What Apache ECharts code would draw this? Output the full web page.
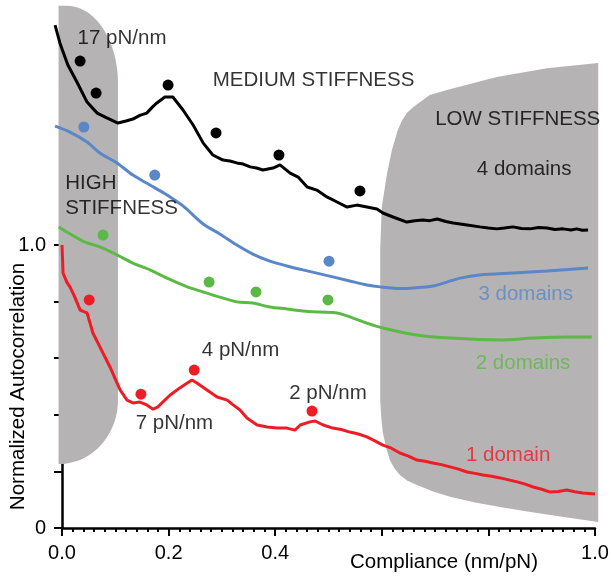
<!DOCTYPE html>
<html><head><meta charset="utf-8">
<script src="https://cdn.jsdelivr.net/npm/echarts@6/dist/echarts.min.js"></script>
<style>html,body{margin:0;padding:0;background:#fff}#c{width:611px;height:576px}</style>
</head><body><div id="c"></div><script>
// ---- data (x = compliance nm/pN, y = normalized autocorrelation) ----
const fourDomains = [[-0.013,1.777],[-0.004,1.714],[0.011,1.636],[0.028,1.576],[0.047,1.505],[0.066,1.466],[0.084,1.449],[0.105,1.431],[0.120,1.438],[0.133,1.445],[0.146,1.458],[0.159,1.466],[0.170,1.488],[0.178,1.502],[0.193,1.523],[0.208,1.523],[0.227,1.477],[0.246,1.424],[0.265,1.360],[0.283,1.318],[0.302,1.300],[0.315,1.297],[0.328,1.290],[0.340,1.286],[0.353,1.276],[0.365,1.272],[0.377,1.265],[0.396,1.272],[0.409,1.283],[0.428,1.254],[0.443,1.240],[0.460,1.205],[0.478,1.194],[0.497,1.170],[0.516,1.152],[0.535,1.134],[0.553,1.141],[0.572,1.134],[0.591,1.127],[0.602,1.113],[0.621,1.099],[0.647,1.081],[0.662,1.086],[0.677,1.088],[0.690,1.086],[0.704,1.092],[0.720,1.083],[0.734,1.078],[0.760,1.071],[0.784,1.064],[0.800,1.060],[0.816,1.057],[0.830,1.060],[0.846,1.064],[0.862,1.058],[0.878,1.057],[0.894,1.062],[0.910,1.060],[0.925,1.055],[0.940,1.057],[0.955,1.053],[0.966,1.057],[0.976,1.052],[0.987,1.053]];
const threeDomains = [[-0.013,1.420],[0.015,1.399],[0.047,1.364],[0.071,1.325],[0.103,1.290],[0.133,1.247],[0.165,1.212],[0.197,1.177],[0.227,1.138],[0.265,1.074],[0.296,1.039],[0.328,1.000],[0.358,0.968],[0.390,0.943],[0.422,0.926],[0.452,0.912],[0.484,0.898],[0.540,0.873],[0.572,0.859],[0.597,0.852],[0.634,0.846],[0.659,0.848],[0.696,0.855],[0.722,0.869],[0.747,0.883],[0.784,0.894],[0.846,0.901],[0.910,0.908],[0.987,0.919]];
const twoDomains = [[-0.006,1.064],[0.009,1.046],[0.039,1.014],[0.071,0.993],[0.103,0.965],[0.133,0.936],[0.165,0.912],[0.197,0.883],[0.235,0.852],[0.265,0.834],[0.296,0.816],[0.328,0.799],[0.358,0.795],[0.390,0.781],[0.422,0.774],[0.452,0.767],[0.484,0.763],[0.516,0.760],[0.540,0.746],[0.572,0.724],[0.602,0.707],[0.666,0.682],[0.728,0.671],[0.822,0.664],[0.884,0.671],[0.947,0.675],[0.994,0.675]];
const oneDomain = [[0.000,1.000],[0.002,0.901],[0.009,0.869],[0.015,0.852],[0.024,0.816],[0.034,0.770],[0.047,0.760],[0.058,0.689],[0.071,0.640],[0.090,0.569],[0.109,0.488],[0.122,0.452],[0.133,0.442],[0.146,0.445],[0.159,0.435],[0.171,0.420],[0.180,0.428],[0.189,0.445],[0.203,0.470],[0.221,0.495],[0.235,0.512],[0.244,0.523],[0.253,0.512],[0.272,0.488],[0.291,0.463],[0.310,0.452],[0.321,0.435],[0.334,0.417],[0.347,0.389],[0.366,0.364],[0.385,0.357],[0.403,0.353],[0.422,0.353],[0.437,0.346],[0.447,0.364],[0.465,0.375],[0.475,0.378],[0.490,0.364],[0.508,0.353],[0.524,0.348],[0.540,0.339],[0.556,0.332],[0.572,0.322],[0.587,0.308],[0.602,0.293],[0.618,0.282],[0.634,0.265],[0.650,0.254],[0.666,0.240],[0.681,0.236],[0.696,0.230],[0.712,0.224],[0.728,0.216],[0.744,0.208],[0.760,0.198],[0.775,0.193],[0.790,0.187],[0.806,0.183],[0.822,0.177],[0.838,0.170],[0.854,0.163],[0.869,0.155],[0.884,0.145],[0.900,0.137],[0.916,0.127],[0.931,0.129],[0.947,0.134],[0.962,0.128],[0.977,0.124],[1.000,0.120]];

const fourDots = [[0.034,1.650],[0.064,1.537],[0.199,1.565],[0.289,1.396],[0.407,1.318],[0.559,1.191]];
const threeDots = [[0.041,1.417],[0.174,1.247],[0.501,0.943]];
const twoDots = [[0.077,1.035],[0.276,0.869],[0.364,0.834],[0.499,0.806]];
const oneDots = [[0.051,0.806],[0.148,0.473],[0.248,0.558],[0.469,0.413]];

const xTickValues = [0, 0.2, 0.4, 0.6, 0.8, 1.0];
const xTickLabels = ['0.0', '0.2', '0.4', '', '', '1.0'];
const yTickValues = [0, 0.2, 0.4, 0.6, 0.8, 1.0];
const yTickLabels = ['0', '', '', '', '', '1.0'];

const seriesNames = ['4 domains', '3 domains', '2 domains', '1 domain'];
const colors = ['#000000', '#5a87c8', '#5cb946', '#ee1c25'];
const GRAY = '#b5b3b4';
const FONT = 'Liberation Sans, Arial, sans-serif';

// ---- shaded stiffness regions (outlines in data coordinates) ----
function arc(cx, cy, rx, ry, a0, a1, n) {
  const p = [];
  for (let i = 0; i <= n; i++) { const t = a0 + (a1 - a0) * i / n; p.push([cx + rx * Math.cos(t), cy + ry * Math.sin(t)]); }
  return p;
}
const highRegion = [[-0.0065, 0.226], [-0.0065, 1.845]]
  .concat(arc(0.0094, 1.572, 0.0956, 0.273, Math.PI / 2, 0, 24))
  .concat(arc(-0.0056, 0.452, 0.1106, 0.226, 0, -Math.PI / 2, 24));
const lowRegion = [[1.006,1.643],[0.910,1.625],[0.816,1.594],[0.722,1.548],[0.690,1.530],[0.672,1.505],[0.658,1.486],[0.647,1.466],[0.638,1.440],[0.630,1.406],[0.619,1.336],[0.610,1.254],[0.600,1.134],[0.597,0.982],[0.597,0.452],[0.599,0.390],[0.602,0.336],[0.608,0.285],[0.615,0.240],[0.624,0.210],[0.634,0.187],[0.648,0.167],[0.666,0.152],[0.695,0.130],[0.728,0.110],[0.775,0.090],[0.822,0.074],[0.870,0.059],[0.916,0.046],[1.006,0.021]];
const regions = [highRegion, lowRegion];

const annotations = [
  {value: [0.1126, 1.731], name: '17 pN/nm', color: '#000'},
  {value: [0.472, 1.581], name: 'MEDIUM STIFFNESS', color: '#000'},
  {value: [0.855, 1.445], name: 'LOW STIFFNESS', color: '#000'},
  {value: [0.867, 1.269], name: '4 domains', color: '#000'},
  {value: [0.870, 0.827], name: '3 domains', color: colors[1]},
  {value: [0.865, 0.583], name: '2 domains', color: colors[2]},
  {value: [0.837, 0.258], name: '1 domain', color: colors[3]},
  {value: [0.335, 0.629], name: '4 pN/nm', color: '#000'},
  {value: [0.211, 0.371], name: '7 pN/nm', color: '#000'},
  {value: [0.499, 0.477], name: '2 pN/nm', color: '#000'}
];

const chart = echarts.init(document.getElementById('c'));
function lineSeries(name, data, color, smooth) {
  return {type: 'line', name: name, data: data, xAxisIndex: 0, yAxisIndex: 0, symbol: 'none', showSymbol: false,
    smooth: smooth, lineStyle: {color: color, width: 3}, z: 3, silent: true};
}
function dotSeries(data, color) {
  return {type: 'scatter', data: data, xAxisIndex: 0, yAxisIndex: 0, symbol: 'circle', symbolSize: 11,
    itemStyle: {color: color, opacity: 1}, z: 4, silent: true};
}
const labelBase = {show: true, position: 'inside', fontSize: 20.5, fontFamily: FONT, textBorderWidth: 0, textShadowBlur: 0};
const option = {
  animation: false,
  backgroundColor: '#ffffff',
  textStyle: {fontFamily: FONT},
  grid: [
    {left: 51.34, right: 16, top: 4.45, bottom: 48, containLabel: false, outerBoundsMode: 'none'},
    {left: 62, right: 16, top: 245, bottom: 48, containLabel: false, outerBoundsMode: 'none'}
  ],
  xAxis: [
    {gridIndex: 0, type: 'value', min: -0.02, max: 1, show: false},
    {gridIndex: 1, type: 'value', min: 0, max: 1, interval: 0.2,
      axisLine: {show: true, onZero: false, lineStyle: {color: '#000', width: 2.5}},
      axisTick: {show: true, length: 8, lineStyle: {color: '#000', width: 2}},
      minorTick: {show: true, splitNumber: 10, length: 4, lineStyle: {color: '#000', width: 2}},
      splitLine: {show: false}, minorSplitLine: {show: false},
      axisLabel: {color: '#000', fontSize: 20, fontFamily: FONT, margin: 15,
        formatter: v => { const i = xTickValues.findIndex(t => Math.abs(t - v) < 1e-6); return i < 0 ? '' : xTickLabels[i]; }},
      name: 'Compliance (nm/pN)', nameLocation: 'middle', nameGap: 24, nameMoveOverlap: false,
      nameTextStyle: {color: '#000', fontSize: 20.5, fontFamily: FONT, padding: [0, 0, 0, 231]}}
  ],
  yAxis: [
    {gridIndex: 0, type: 'value', min: 0, max: 1.85, show: false},
    {gridIndex: 1, type: 'value', min: 0, max: 1, interval: 0.2,
      axisLine: {show: true, onZero: false, lineStyle: {color: '#000', width: 2.5}},
      axisTick: {show: true, length: 8, lineStyle: {color: '#000', width: 2}},
      splitLine: {show: false},
      axisLabel: {color: '#000', fontSize: 20, fontFamily: FONT, margin: 16,
        formatter: v => { const i = yTickValues.findIndex(t => Math.abs(t - v) < 1e-6); return i < 0 ? '' : yTickLabels[i]; }},
      name: 'Normalized Autocorrelation', nameLocation: 'middle', nameGap: 33, nameMoveOverlap: false,
      nameTextStyle: {color: '#000', fontSize: 20.5, fontFamily: FONT}}
  ],
  series: [
    {type: 'custom', xAxisIndex: 0, yAxisIndex: 0, z: 1, silent: true, data: [[0], [1]],
      renderItem: (params, api) => ({type: 'polygon',
        shape: {points: regions[params.dataIndex].map(p => api.coord(p))},
        style: {fill: GRAY}})},
    lineSeries(seriesNames[0], fourDomains, colors[0], false),
    lineSeries(seriesNames[1], threeDomains, colors[1], 0.3),
    lineSeries(seriesNames[2], twoDomains, colors[2], 0.3),
    lineSeries(seriesNames[3], oneDomain, colors[3], false),
    dotSeries(fourDots, colors[0]),
    dotSeries(threeDots, colors[1]),
    dotSeries(twoDots, colors[2]),
    dotSeries(oneDots, colors[3]),
    {type: 'scatter', xAxisIndex: 0, yAxisIndex: 0, z: 5, silent: true, symbol: 'circle', symbolSize: 1,
      itemStyle: {color: 'rgba(0,0,0,0)'},
      data: annotations.map(a => ({value: a.value, name: a.name,
        label: Object.assign({}, labelBase, {formatter: a.name, color: a.color})}))},
    {type: 'scatter', xAxisIndex: 0, yAxisIndex: 0, z: 5, silent: true, symbol: 'circle', symbolSize: 1,
      itemStyle: {color: 'rgba(0,0,0,0)'},
      data: [{value: [0.006, 1.175], name: 'HIGH\nSTIFFNESS',
        label: Object.assign({}, labelBase, {align: 'left', verticalAlign: 'middle', formatter: 'HIGH\nSTIFFNESS',
          color: '#000', lineHeight: 25})}]}
  ]
};
chart.setOption(option);
</script></body></html>
